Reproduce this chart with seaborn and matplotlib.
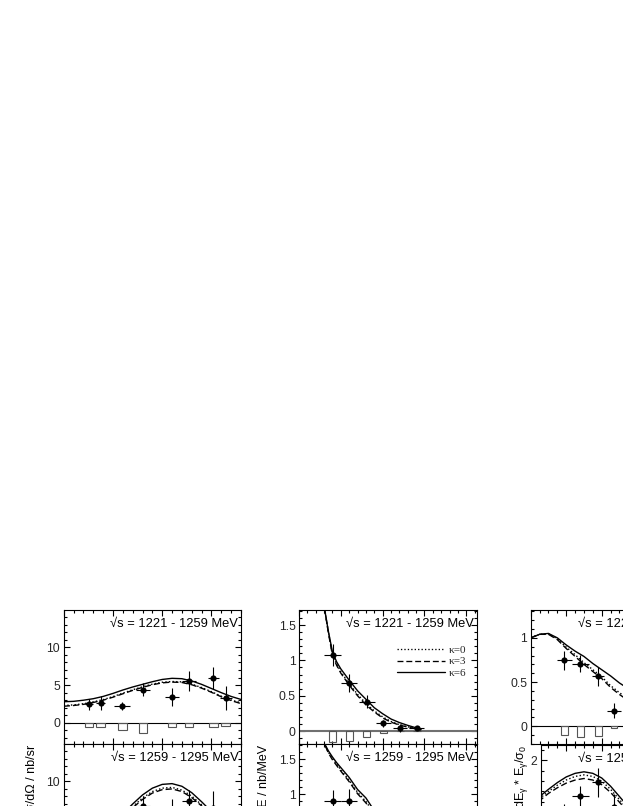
import numpy as np
import pandas as pd
import matplotlib
matplotlib.use("Agg")
import matplotlib.pyplot as plt
import seaborn as sns
from matplotlib.ticker import MultipleLocator, FuncFormatter
from matplotlib.lines import Line2D

# ------------------------------------------------------------------ data
energy_ranges = ["1221 - 1259", "1259 - 1295"]
kappas = ["κ=0", "κ=3", "κ=6"]

# panel 1 : angular distribution dσ/dΩ (theta in degrees)
p1_x = [25.7, 37.5, 59.5, 80.5, 110, 127, 152, 164.5]
p1_xerr = [4, 4.5, 8, 7, 7, 7, 5.5, 6]
p1_top_y = [2.44, 2.65, 2.2, 4.4, 3.45, 5.57, 5.9, 3.3]
p1_top_err = [0.7, 0.9, 0.55, 0.9, 1.2, 1.3, 1.45, 1.6]
p1_top_sys = [-0.5, -0.55, -0.9, -1.4, -0.5, -0.5, -0.55, -0.45]
p1_bot_y = [1.5, 2.5, 4.0, 6.8, 5.5, 7.35, 6.5, 4.5]
p1_bot_err = [0.8, 0.9, 1.0, 1.3, 2.2, 1.5, 2.2, 1.6]
p1_bot_sys = [-0.4, -0.5, -0.7, -1.0, -0.6, -0.6, -0.6, -0.5]
p1_curve_x = [0, 10, 20, 30, 40, 50, 60, 70, 80, 90, 100, 110, 120, 130, 140, 150, 160, 170, 180]
p1_top_k0 = [2.3, 2.38, 2.53, 2.78, 3.08, 3.48, 3.93, 4.38, 4.78, 5.13, 5.38, 5.48, 5.43, 5.13, 4.68, 4.13, 3.53, 3.03, 2.65]
p1_top_k3 = [2.2, 2.3, 2.45, 2.7, 3.0, 3.4, 3.85, 4.3, 4.7, 5.05, 5.3, 5.4, 5.35, 5.05, 4.6, 4.05, 3.45, 2.95, 2.55]
p1_top_k6 = [2.8, 2.85, 3.0, 3.2, 3.5, 3.9, 4.35, 4.75, 5.1, 5.45, 5.75, 5.9, 5.85, 5.55, 5.1, 4.55, 4.0, 3.5, 3.1]
p1_bot_k0 = [1.5, 1.6, 1.9, 2.45, 3.2, 4.25, 5.4, 6.65, 7.8, 8.65, 9.1, 9.2, 8.85, 8.05, 6.9, 5.7, 4.45, 3.4, 2.85]
p1_bot_k3 = [1.45, 1.55, 1.85, 2.4, 3.1, 4.15, 5.3, 6.5, 7.6, 8.45, 8.9, 9.0, 8.65, 7.85, 6.75, 5.55, 4.35, 3.3, 2.75]
p1_bot_k6 = [1.6, 1.7, 2.0, 2.6, 3.4, 4.5, 5.7, 7.0, 8.2, 9.1, 9.6, 9.7, 9.35, 8.5, 7.3, 6.0, 4.7, 3.6, 3.0]

# panel 2 : photon energy spectrum dσ/dE (E in MeV)
p2_x = [40.3, 60.2, 81, 101, 121, 141]
p2_xerr = [10, 9.5, 9.5, 9.5, 8, 9]
p2_top_y = [1.076, 0.684, 0.415, 0.109, 0.043, 0.047]
p2_top_err = [0.155, 0.13, 0.095, 0.05, 0.05, 0.02]
p2_top_sys = [-0.15, -0.137, -0.08, -0.024, -0.004, -0.002]
p2_bot_y = [0.9, 0.91, 0.7, 0.4, 0.15, 0.05]
p2_bot_err = [0.16, 0.16, 0.12, 0.08, 0.05, 0.03]
p2_bot_sys = [-0.15, -0.14, -0.1, -0.05, -0.01, -0.005]
p2_curve_x = [26, 28, 31, 35, 40, 45, 50, 60, 70, 80, 90, 100, 110, 120, 130, 140, 146]
p2_top_k0 = [2.4, 2.05, 1.7, 1.41, 1.09, 0.95, 0.84, 0.67, 0.52, 0.39, 0.285, 0.2, 0.135, 0.09, 0.06, 0.033, 0.017]
p2_top_k3 = [2.4, 2.05, 1.7, 1.4, 1.07, 0.93, 0.82, 0.65, 0.5, 0.37, 0.27, 0.185, 0.125, 0.085, 0.055, 0.03, 0.015]
p2_top_k6 = [2.4, 2.05, 1.7, 1.42, 1.12, 0.98, 0.88, 0.72, 0.57, 0.45, 0.33, 0.245, 0.17, 0.12, 0.08, 0.045, 0.02]
p2_bot_k0 = [2.6, 2.1, 1.7, 1.6, 1.51, 1.43, 1.35, 1.2, 1.03, 0.9, 0.73, 0.57, 0.43, 0.28, 0.17, 0.075, 0.027]
p2_bot_k3 = [2.6, 2.1, 1.7, 1.59, 1.49, 1.41, 1.33, 1.18, 1.01, 0.88, 0.71, 0.55, 0.41, 0.27, 0.16, 0.07, 0.025]
p2_bot_k6 = [2.6, 2.1, 1.71, 1.62, 1.53, 1.45, 1.38, 1.24, 1.07, 0.95, 0.77, 0.6, 0.45, 0.3, 0.18, 0.08, 0.03]

# panel 3 : normalised spectrum dσ/dE * E/σ0 (relative energy)
p3_x = [0.19, 0.28, 0.38, 0.47]
p3_xerr = [0.04, 0.05, 0.035, 0.04]
p3_top_y = [0.747, 0.71, 0.565, 0.178]
p3_top_err = [0.11, 0.1, 0.11, 0.085]
p3_top_sys = [-0.094, -0.125, -0.106, -0.02]
p3_bot_y = [0.9, 1.31, 1.58, 1.1]
p3_bot_err = [0.25, 0.2, 0.28, 0.25]
p3_bot_sys = [-0.1, -0.12, -0.1, -0.05]
p3_curve_x = [0, 0.05, 0.1, 0.15, 0.2, 0.25, 0.3, 0.35, 0.4, 0.45, 0.5, 0.6, 0.7, 0.8, 0.9, 1.0]
p3_top_k0 = [1.0, 1.04, 1.045, 0.99, 0.895, 0.81, 0.72, 0.64, 0.56, 0.46, 0.38, 0.24, 0.13, 0.06, 0.02, 0.0]
p3_top_k3 = [1.0, 1.04, 1.04, 0.98, 0.88, 0.79, 0.70, 0.62, 0.54, 0.44, 0.36, 0.22, 0.12, 0.05, 0.02, 0.0]
p3_top_k6 = [1.0, 1.04, 1.05, 1.0, 0.92, 0.85, 0.79, 0.71, 0.64, 0.57, 0.49, 0.36, 0.25, 0.15, 0.07, 0.0]
p3_bot_k0 = [1.13, 1.26, 1.4, 1.52, 1.62, 1.69, 1.72, 1.69, 1.6, 1.44, 1.24, 0.85, 0.5, 0.25, 0.09, 0.0]
p3_bot_k3 = [1.1, 1.22, 1.36, 1.47, 1.56, 1.62, 1.65, 1.62, 1.53, 1.38, 1.19, 0.8, 0.47, 0.23, 0.08, 0.0]
p3_bot_k6 = [1.17, 1.3, 1.44, 1.57, 1.68, 1.75, 1.78, 1.75, 1.66, 1.5, 1.3, 0.9, 0.55, 0.28, 0.1, 0.0]

ylabels = ["dσ/dΩ / nb/sr", "dσ/dE / nb/MeV", r"dσ/dE$_\gamma$ * E$_\gamma$/σ$_0$"]

# ------------------------------------------------------------------ style
sns.set_theme(style="ticks")
plt.rcParams["font.family"] = ["Liberation Sans", "DejaVu Sans"]
plt.rcParams["mathtext.default"] = "regular"
plt.rcParams["axes.linewidth"] = 0.8

W, H = 623, 806
fig = plt.figure(figsize=(W / 100, H / 100), dpi=100)


def add_ax(l, t, r, b):
    return fig.add_axes([l / W, 1 - b / H, (r - l) / W, (b - t) / H])


dash_map = {"κ=0": (1, 1.6), "κ=3": (4.5, 2.2), "κ=6": ""}
TICK_FS = 8.7
TXT_FS = 9.3


def style_axis(ax, xlim, ylim, xmaj, xmin, ymaj, ymin, label_min=None):
    ax.set_xlim(*xlim)
    ax.set_ylim(*ylim)
    ax.xaxis.set_major_locator(MultipleLocator(xmaj))
    ax.xaxis.set_minor_locator(MultipleLocator(xmin))
    ax.yaxis.set_major_locator(MultipleLocator(ymaj))
    ax.yaxis.set_minor_locator(MultipleLocator(ymin))
    ax.tick_params(which="both", direction="in", top=True, right=True,
                   width=0.8, color="black", labelsize=TICK_FS, pad=2.5)
    ax.tick_params(which="major", length=4.0)
    ax.tick_params(which="minor", length=2.2)
    ax.tick_params(axis="x", labelbottom=False)

    def fmt(v, p):
        if label_min is not None and v < label_min - 1e-9:
            return ""
        return f"{v:g}" if abs(v) > 1e-9 else "0"

    ax.yaxis.set_major_formatter(FuncFormatter(fmt))
    for s in ax.spines.values():
        s.set_color("black")
        s.set_linewidth(0.8)
    ax.set_xlabel("")
    ax.set_ylabel("")


def draw(ax, cx, k0, k3, k6, px, pxerr, py, pyerr, psys, boxw, zero_lw, zero_col, label):
    df = pd.DataFrame({
        "x": list(cx) * 3,
        "y": list(k0) + list(k3) + list(k6),
        "kappa": [kappas[0]] * len(cx) + [kappas[1]] * len(cx) + [kappas[2]] * len(cx),
    })
    ax.axhline(0, color=zero_col, lw=zero_lw, zorder=1)
    ax.bar(px, psys, width=boxw, bottom=0, fill=False, edgecolor="#555555",
           linewidth=0.8, zorder=2)
    sns.lineplot(data=df, x="x", y="y", style="kappa", dashes=dash_map,
                 color="black", linewidth=1.0, estimator=None, sort=False,
                 legend=False, ax=ax, zorder=3)
    ax.errorbar(px, py, xerr=pxerr, yerr=pyerr, fmt="none", ecolor="black",
                elinewidth=0.8, capsize=0, zorder=4)
    pts = pd.DataFrame({"x": px, "y": py})
    sns.scatterplot(data=pts, x="x", y="y", color="black", s=20, edgecolor="black",
                    linewidth=0, ax=ax, zorder=5, legend=False)
    ax.text(0.985, 0.875, f"√s = {label} MeV", transform=ax.transAxes,
            ha="right", va="baseline", fontsize=TXT_FS, color="black")


# ---- panel 1
ax = add_ax(63.7, 610, 241.0, 744)
draw(ax, p1_curve_x, p1_top_k0, p1_top_k3, p1_top_k6, p1_x, p1_xerr, p1_top_y,
     p1_top_err, p1_top_sys, 8.6, 0.8, "black", energy_ranges[0])
style_axis(ax, (0, 180), (-2.8, 14.95), 50, 10, 5, 1)
ax = add_ax(63.7, 744, 241.0, 878)
draw(ax, p1_curve_x, p1_bot_k0, p1_bot_k3, p1_bot_k6, p1_x, p1_xerr, p1_bot_y,
     p1_bot_err, p1_bot_sys, 8.6, 0.8, "black", energy_ranges[1])
style_axis(ax, (0, 180), (-2.8, 14.95), 50, 10, 5, 1, label_min=10)

# ---- panel 2
ax2 = add_ax(299.0, 610, 476.7, 744)
draw(ax2, p2_curve_x, p2_top_k0, p2_top_k3, p2_top_k6, p2_x, p2_xerr, p2_top_y,
     p2_top_err, p2_top_sys, 8.8, 1.5, "#707070", energy_ranges[0])
style_axis(ax2, (0, 212.5), (-0.184, 1.714), 50, 10, 0.5, 0.1)
handles = [Line2D([], [], color="black", lw=0.95, linestyle=(0, dash_map[k]) if dash_map[k] else "-")
           for k in kappas]
ax2.legend(handles, kappas, loc="upper left", bbox_to_anchor=(0.55, 0.735),
           frameon=False, borderpad=0, borderaxespad=0, handlelength=4.3,
           handletextpad=0.35, labelspacing=0.12,
           prop={"family": ["Liberation Serif", "DejaVu Serif"], "size": 8.0})
ax = add_ax(299.0, 744, 476.7, 878)
draw(ax, p2_curve_x, p2_bot_k0, p2_bot_k3, p2_bot_k6, p2_x, p2_xerr, p2_bot_y,
     p2_bot_err, p2_bot_sys, 8.8, 1.5, "#707070", energy_ranges[1])
style_axis(ax, (0, 212.5), (-0.184, 1.714), 50, 10, 0.5, 0.1, label_min=1)

# ---- panel 3
ax = add_ax(530.7, 610, 708.2, 744)
draw(ax, p3_curve_x, p3_top_k0, p3_top_k3, p3_top_k6, p3_x, p3_xerr, p3_top_y,
     p3_top_err, p3_top_sys, 0.038, 0.8, "black", energy_ranges[0])
style_axis(ax, (0, 1), (-0.2, 1.315), 0.2, 0.05, 0.5, 0.1)
# lower pad of the third column starts a little further right (same data scale)
ax = add_ax(541.0, 745, 708.2, 879)
draw(ax, p3_curve_x, p3_bot_k0, p3_bot_k3, p3_bot_k6, p3_x, p3_xerr, p3_bot_y,
     p3_bot_err, p3_bot_sys, 0.038, 0.8, "black", energy_ranges[1])
style_axis(ax, (0.058, 1), (-0.3, 2.3), 0.2, 0.05, 1, 0.2, label_min=2)

# ---- y labels (column titles, rotated)
for xpix, txt in zip([32, 264, 522], ylabels):
    fig.text(xpix / W, 1 - 745 / H, txt, rotation=90, ha="center", va="top",
             fontsize=9.0, color="black")

fig.savefig("out.png", dpi=100)
